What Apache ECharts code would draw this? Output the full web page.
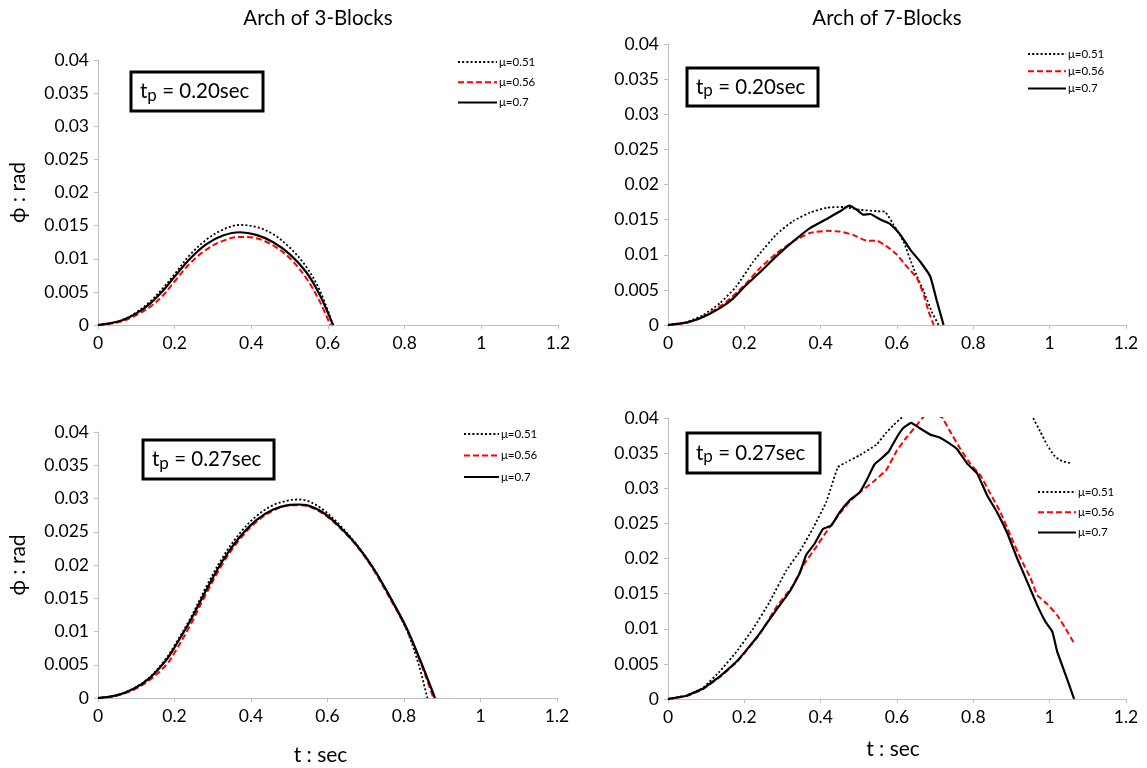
<!DOCTYPE html>
<html><head><meta charset="utf-8">
<script src="https://cdn.jsdelivr.net/npm/echarts@6/dist/echarts.min.js"></script>
<style>html,body{margin:0;padding:0;background:#fff}#c{width:1147px;height:768px}</style>
</head><body><div id="c"></div><script>
// ---------- text ----------
const panelTitles = ['Arch of 3-Blocks', 'Arch of 7-Blocks'];
const seriesNames = ['μ=0.51', 'μ=0.56', 'μ=0.7'];
const tpLabels = [' = 0.20sec', ' = 0.20sec', ' = 0.27sec', ' = 0.27sec'];
const yName = 'ϕ : rad';
const xName = 't : sec';

// ---------- Panel 1: 3 blocks, tp = 0.20 ----------
const p1_t051 = [0, 0.03, 0.065, 0.1, 0.135, 0.17, 0.2, 0.24, 0.283, 0.326, 0.37, 0.413, 0.457, 0.5, 0.543, 0.578, 0.613];
const p1_v051 = [0, 0.00025, 0.0008, 0.0019, 0.0035, 0.0056, 0.0077, 0.0106, 0.0129, 0.0144, 0.0151, 0.0148, 0.0137, 0.0117, 0.0088, 0.0053, 0];
const p1_t056 = [0, 0.03, 0.065, 0.1, 0.135, 0.17, 0.2, 0.24, 0.283, 0.326, 0.37, 0.413, 0.457, 0.5, 0.543, 0.578, 0.606];
const p1_v056 = [0, 0.0002, 0.0006, 0.0015, 0.0027, 0.0045, 0.0066, 0.0093, 0.0114, 0.0127, 0.0133, 0.0131, 0.012, 0.0101, 0.0071, 0.0036, 0];
const p1_t07  = [0, 0.03, 0.065, 0.1, 0.135, 0.17, 0.2, 0.24, 0.283, 0.326, 0.37, 0.413, 0.457, 0.5, 0.543, 0.578, 0.613];
const p1_v07  = [0, 0.00025, 0.00075, 0.00175, 0.0032, 0.0052, 0.0073, 0.01, 0.0122, 0.0135, 0.014, 0.0136, 0.0125, 0.0107, 0.008, 0.0046, 0];

// ---------- Panel 2: 7 blocks, tp = 0.20 ----------
const p2_t051 = [0, 0.048, 0.092, 0.136, 0.179, 0.223, 0.241, 0.284, 0.328, 0.372, 0.416, 0.46, 0.503, 0.547, 0.569, 0.591, 0.617, 0.643, 0.67, 0.691, 0.709];
const p2_v051 = [0, 0.0004, 0.0014, 0.0031, 0.0055, 0.009, 0.0102, 0.0129, 0.0148, 0.016, 0.0167, 0.0168, 0.0164, 0.0162, 0.0161, 0.0143, 0.0119, 0.0081, 0.0048, 0.0019, 0];
const p2_t056 = [0, 0.048, 0.092, 0.153, 0.201, 0.241, 0.284, 0.328, 0.372, 0.416, 0.451, 0.486, 0.521, 0.547, 0.573, 0.6, 0.626, 0.652, 0.67, 0.683, 0.696];
const p2_v056 = [0, 0.0003, 0.00114, 0.0033, 0.0057, 0.0081, 0.0102, 0.0119, 0.0131, 0.0134, 0.0133, 0.0128, 0.012, 0.012, 0.0112, 0.01, 0.0083, 0.0067, 0.0043, 0.0019, 0];
const p2_t07  = [0, 0.048, 0.092, 0.136, 0.171, 0.201, 0.241, 0.284, 0.328, 0.372, 0.416, 0.451, 0.475, 0.495, 0.512, 0.53, 0.547, 0.565, 0.582, 0.608, 0.635, 0.661, 0.687, 0.705, 0.722];
const p2_v07  = [0, 0.00033, 0.00114, 0.0024, 0.0038, 0.0055, 0.0075, 0.0098, 0.0119, 0.0138, 0.0151, 0.0162, 0.017, 0.0164, 0.0157, 0.0158, 0.0153, 0.0148, 0.0144, 0.0129, 0.0107, 0.009, 0.0069, 0.0033, 0];

// ---------- Panel 3: 3 blocks, tp = 0.27 ----------
const p3_t051 = [0, 0.048, 0.092, 0.135, 0.179, 0.2, 0.24, 0.283, 0.327, 0.371, 0.414, 0.458, 0.502, 0.52, 0.545, 0.589, 0.632, 0.676, 0.72, 0.763, 0.807, 0.836, 0.861];
const p3_v051 = [0, 0.0004, 0.0014, 0.0031, 0.006, 0.0079, 0.0118, 0.01675, 0.02125, 0.0248, 0.02735, 0.029, 0.02975, 0.02985, 0.0297, 0.0283, 0.026, 0.0231, 0.0195, 0.0152, 0.0102, 0.0055, 0];
const p3_t056 = [0, 0.048, 0.092, 0.135, 0.179, 0.2, 0.24, 0.283, 0.327, 0.371, 0.414, 0.458, 0.502, 0.523, 0.545, 0.589, 0.632, 0.676, 0.72, 0.763, 0.807, 0.842, 0.877];
const p3_v056 = [0, 0.00035, 0.0012, 0.0027, 0.005, 0.0068, 0.0108, 0.0157, 0.0203, 0.0239, 0.0265, 0.0282, 0.029, 0.029, 0.0289, 0.0277, 0.0256, 0.0229, 0.0193, 0.015, 0.0103, 0.0055, 0];
const p3_t07  = [0, 0.048, 0.092, 0.135, 0.179, 0.2, 0.24, 0.283, 0.327, 0.371, 0.414, 0.458, 0.502, 0.523, 0.545, 0.589, 0.632, 0.676, 0.72, 0.763, 0.807, 0.842, 0.881];
const p3_v07  = [0, 0.0004, 0.00135, 0.003, 0.00575, 0.0076, 0.0115, 0.01625, 0.02075, 0.02425, 0.02675, 0.02835, 0.02905, 0.0291, 0.029, 0.02785, 0.02575, 0.023, 0.0195, 0.01525, 0.0105, 0.00575, 0];

// ---------- Panel 4: 7 blocks, tp = 0.27 ----------
const p4_t051 = [0, 0.048, 0.092, 0.135, 0.179, 0.223, 0.266, 0.31, 0.345, 0.38, 0.415, 0.445, 0.467, 0.502, 0.546, 0.57, 0.591, 0.613, 0.65, 0.7, 0.75, 0.8, 0.85, 0.9, 0.94, 0.955, 0.976, 0.994, 1.011, 1.024, 1.037, 1.053];
const p4_v051 = [0, 0.0005, 0.0016, 0.0039, 0.0067, 0.01, 0.0138, 0.0183, 0.021, 0.0243, 0.0281, 0.033, 0.0337, 0.0347, 0.0362, 0.0378, 0.039, 0.0401, 0.0425, 0.045, 0.047, 0.048, 0.048, 0.046, 0.0425, 0.0402, 0.038, 0.0361, 0.0347, 0.0341, 0.0338, 0.0336];
const p4_t056 = [0, 0.048, 0.092, 0.135, 0.179, 0.2, 0.24, 0.284, 0.328, 0.354, 0.389, 0.415, 0.45, 0.476, 0.502, 0.537, 0.572, 0.6, 0.626, 0.652, 0.67, 0.695, 0.718, 0.74, 0.766, 0.792, 0.819, 0.845, 0.871, 0.897, 0.924, 0.95, 0.967, 0.994, 1.02, 1.042, 1.062];
const p4_v056 = [0, 0.0004, 0.0014, 0.0031, 0.0052, 0.0065, 0.0092, 0.0131, 0.0162, 0.019, 0.0217, 0.0238, 0.0264, 0.0281, 0.0294, 0.0309, 0.0326, 0.0354, 0.0373, 0.039, 0.0402, 0.0405, 0.0401, 0.038, 0.0356, 0.0335, 0.0318, 0.0292, 0.0266, 0.0233, 0.02, 0.0172, 0.0148, 0.0135, 0.0119, 0.01, 0.0081];
const p4_t07  = [0, 0.048, 0.092, 0.135, 0.179, 0.2, 0.24, 0.284, 0.319, 0.345, 0.362, 0.384, 0.406, 0.428, 0.45, 0.476, 0.502, 0.52, 0.541, 0.556, 0.578, 0.6, 0.617, 0.637, 0.661, 0.688, 0.709, 0.731, 0.757, 0.784, 0.81, 0.836, 0.862, 0.889, 0.915, 0.941, 0.967, 0.989, 1.007, 1.02, 1.042, 1.064];
const p4_v07  = [0, 0.00047, 0.0015, 0.0032, 0.0053, 0.0066, 0.0093, 0.0127, 0.0153, 0.0179, 0.0205, 0.0221, 0.0242, 0.0247, 0.0266, 0.0283, 0.0294, 0.0311, 0.0334, 0.0341, 0.0352, 0.0373, 0.0386, 0.0393, 0.0385, 0.0376, 0.0373, 0.0366, 0.0356, 0.0335, 0.0321, 0.029, 0.0266, 0.0236, 0.02, 0.0167, 0.0134, 0.011, 0.0096, 0.0067, 0.0034, 0];

// ---------- build ----------
const FONT = 'Lato';
const zip = (t, v) => t.map((x, i) => [x, v[i]]);
const panels = [
  { data: [[p1_t051, p1_v051], [p1_t056, p1_v056], [p1_t07, p1_v07]], smooth: 0.35 },
  { data: [[p2_t051, p2_v051], [p2_t056, p2_v056], [p2_t07, p2_v07]], smooth: 0.15 },
  { data: [[p3_t051, p3_v051], [p3_t056, p3_v056], [p3_t07, p3_v07]], smooth: 0.35 },
  { data: [[p4_t051, p4_v051], [p4_t056, p4_v056], [p4_t07, p4_v07]], smooth: 0.1 }
];
const grids = [
  { left: 98, top: 60, width: 460, height: 265 },
  { left: 668, top: 44, width: 458, height: 281 },
  { left: 98, top: 432, width: 459, height: 266 },
  { left: 668, top: 418, width: 458, height: 281 }
];
const lineStyles = [
  { color: '#000000', width: 1.8, type: [2, 2.2] },
  { color: '#ff0000', width: 2, type: [6, 3] },
  { color: '#000000', width: 2.2, type: 'solid' }
];
const axisCommon = {
  axisLine: { show: true, lineStyle: { color: '#bfbfbf', width: 1 } },
  axisTick: { show: true, length: 4, lineStyle: { color: '#bfbfbf' } },
  splitLine: { show: false },
  axisLabel: { color: '#000', fontFamily: FONT, fontSize: 17.5 }
};
const xAxes = grids.map((g, i) => Object.assign({}, axisCommon, {
  type: 'value', gridIndex: i, min: 0, max: 1.2, interval: 0.2,
  axisLabel: Object.assign({}, axisCommon.axisLabel, { margin: 9 }),
  name: i >= 2 ? xName : '', nameLocation: 'middle', nameGap: i === 2 ? 47 : 40,
  nameTextStyle: { color: '#000', fontFamily: FONT, fontSize: 21, padding: i === 2 ? [0, 14, 0, 0] : [0, 8, 0, 0] }
}));
const yAxes = grids.map((g, i) => Object.assign({}, axisCommon, {
  type: 'value', gridIndex: i, min: 0, max: 0.04, interval: 0.005,
  axisLabel: Object.assign({}, axisCommon.axisLabel, { margin: 9 }),
  name: (i === 0 || i === 2) ? yName : '', nameLocation: 'middle', nameGap: 69,
  nameTextStyle: { color: '#000', fontFamily: FONT, fontSize: 21 }
}));
const series = [];
panels.forEach((p, pi) => {
  p.data.forEach((d, si) => {
    series.push({
      type: 'line', name: seriesNames[si], xAxisIndex: pi, yAxisIndex: pi,
      data: zip(d[0], d[1]), symbol: 'none', smooth: p.smooth, clip: true,
      lineStyle: lineStyles[si], itemStyle: { color: lineStyles[si].color },
      z: 2 + si, animation: false
    });
  });
});
const legendPos = [
  { left: 457, top: 56, itemWidth: 39, itemGap: 8.3 },
  { left: 1027, top: 48, itemWidth: 38, itemGap: 5.2 },
  { left: 463, top: 428, itemWidth: 35, itemGap: 9.5 },
  { left: 1037, top: 486, itemWidth: 38, itemGap: 8.3 }
];
const legends = legendPos.map(lp => ({
  orient: 'vertical', left: lp.left, top: lp.top, padding: 0,
  itemWidth: lp.itemWidth, itemHeight: 14, itemGap: lp.itemGap,
  data: seriesNames, selectedMode: false,
  itemStyle: { opacity: 0 },
  textStyle: { color: '#000', fontFamily: FONT, fontSize: 11.5, padding: [0, 0, 0, -3] }
}));
const boxes = [
  { x: 131, y: 72, w: 132, h: 39, tx: 140 },
  { x: 687, y: 68, w: 131, h: 38, tx: 696 },
  { x: 143, y: 440, w: 131, h: 39, tx: 152 },
  { x: 687, y: 433, w: 133, h: 40, tx: 696 }
];
const graphic = [];
panelTitles.forEach((t, i) => {
  graphic.push({ type: 'text', x: i === 0 ? 318 : 887, y: 18,
    style: { text: t, fill: '#000', font: '20.5px ' + FONT, align: 'center', verticalAlign: 'middle' } });
});
boxes.forEach((b, i) => {
  graphic.push({ type: 'rect', shape: { x: b.x, y: b.y, width: b.w, height: b.h },
    style: { fill: '#fff', stroke: '#000', lineWidth: 3 }, z: 10 });
  graphic.push({ type: 'text', x: b.tx, y: b.y + b.h / 2, z: 11,
    style: { text: '{a|t}{b|p}{a|' + tpLabels[i] + '}', verticalAlign: 'middle', align: 'left',
      rich: { a: { fontSize: 20.5, fontFamily: FONT, fill: '#000', lineHeight: 25 },
              b: { fontSize: 17, fontFamily: FONT, fill: '#000', verticalAlign: 'bottom' } } } });
});
const chart = echarts.init(document.getElementById('c'), null, { renderer: 'canvas' });
chart.setOption({
  backgroundColor: '#fff', animation: false,
  grid: grids, xAxis: xAxes, yAxis: yAxes, series: series, legend: legends, graphic: graphic
});
</script></body></html>
